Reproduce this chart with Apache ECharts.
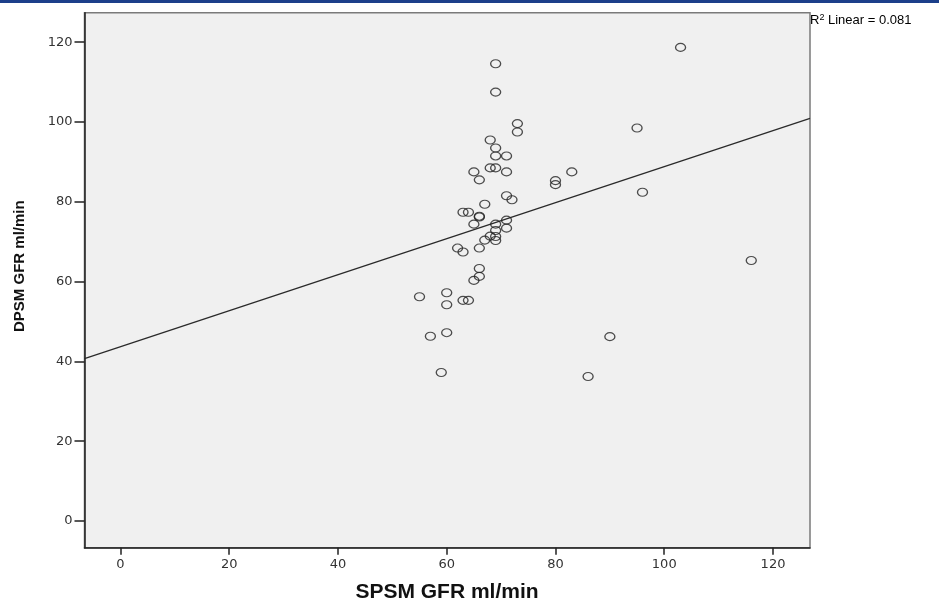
<!DOCTYPE html>
<html>
<head>
<meta charset="utf-8">
<script src="https://cdn.jsdelivr.net/npm/echarts@6/dist/echarts.min.js"></script>
<style>
html,body{margin:0;padding:0;background:#fff;}
#chart{width:939px;height:603px;}
</style>
</head>
<body>
<div id="chart"></div>
<script>
// SPSM GFR (x) values
const spsm = [103, 69, 69, 73, 73, 68, 69, 69, 71, 65, 68, 69, 71, 66, 80, 80, 83, 95, 96,
  71, 72, 67, 63, 64, 66, 66, 65, 69, 71, 71, 69, 68, 69, 69, 67, 66, 62, 63, 66, 66, 65,
  55, 60, 60, 63, 64, 57, 60, 59, 116, 90, 86];
// DPSM GFR (y) values
const dpsm = [118.7, 114.6, 107.5, 99.6, 97.5, 95.5, 93.5, 91.5, 91.5, 87.5, 88.5, 88.5, 87.5, 85.5, 85.3, 84.3, 87.5, 98.5, 82.4,
  81.5, 80.5, 79.4, 77.4, 77.4, 76.4, 76.2, 74.4, 74.4, 75.4, 73.4, 72.8, 71.4, 71.3, 70.3, 70.4, 68.4, 68.4, 67.4, 63.3, 61.3, 60.3,
  56.2, 57.2, 54.2, 55.3, 55.3, 46.3, 47.2, 37.2, 65.3, 46.2, 36.2];
const xTicks = [0, 20, 40, 60, 80, 100, 120];
const yTicks = [0, 20, 40, 60, 80, 100, 120];
const xRange = [-6.6, 126.8];
const yRange = [-6.7, 127.4];
const rSquaredText = '0.081';

const points = spsm.map((x, i) => [x, dpsm[i]]);
// least squares fit
const n = spsm.length;
const mx = spsm.reduce((a, b) => a + b, 0) / n;
const my = dpsm.reduce((a, b) => a + b, 0) / n;
let sxy = 0, sxx = 0;
for (let i = 0; i < n; i++) { sxy += (spsm[i] - mx) * (dpsm[i] - my); sxx += (spsm[i] - mx) ** 2; }
const slope = sxy / sxx;
const intercept = my - slope * mx;
const fitLine = [[xRange[0], intercept + slope * xRange[0]], [xRange[1], intercept + slope * xRange[1]]];

const chart = echarts.init(document.getElementById('chart'), null, {renderer: 'canvas'});
const font = 'DejaVu Sans, Liberation Sans, Arial, sans-serif';
const bold = 'Liberation Sans, Arial, sans-serif';
chart.setOption({
  animation: false,
  backgroundColor: '#ffffff',
  grid: {left: 84.5, top: 12.7, right: 129, bottom: 55.3, show: true,
    backgroundColor: '#f0f0f0', borderColor: '#7a7a7a', borderWidth: 1.5},
  xAxis: {
    type: 'value', min: xRange[0], max: xRange[1],
    axisLine: {show: true, onZero: false, lineStyle: {color: '#222', width: 1.5}},
    axisTick: {show: true, length: 7, customValues: xTicks, lineStyle: {color: '#222', width: 1.5}},
    axisLabel: {customValues: xTicks, color: '#333', fontSize: 13, fontFamily: font, margin: 10},
    splitLine: {show: false}
  },
  yAxis: {
    type: 'value', min: yRange[0], max: yRange[1],
    axisLine: {show: true, onZero: false, lineStyle: {color: '#222', width: 1.5}},
    axisTick: {show: true, length: 10, customValues: yTicks, lineStyle: {color: '#222', width: 1.5}},
    axisLabel: {customValues: yTicks, color: '#333', fontSize: 13, fontFamily: font, margin: 12},
    splitLine: {show: false}
  },
  series: [
    {type: 'line', data: fitLine, symbol: 'none', clip: true,
      lineStyle: {color: '#2a2a2a', width: 1.3}, silent: true, z: 2},
    {type: 'scatter', data: points, symbol: 'circle', symbolSize: [10, 8],
      itemStyle: {color: 'rgba(0,0,0,0)', borderColor: '#222', borderWidth: 1.2}, z: 3}
  ],
  graphic: [
    {type: 'rect', left: 0, top: 0, shape: {width: 939, height: 3}, style: {fill: '#1c3f8a'}},
    {type: 'text', x: 447, y: 582,
      style: {text: 'SPSM GFR ml/min', font: 'bold 21px ' + bold, fill: '#111', textAlign: 'center'}},
    {type: 'text', x: 12, y: 332, rotation: Math.PI / 2,
      style: {text: 'DPSM GFR ml/min', font: 'bold 15px ' + bold, fill: '#111'}},
    {type: 'text', left: 810, top: 13,
      style: {rich: {r: {fontSize: 13, fontFamily: bold, color: '#111'},
                     s: {fontSize: 9, fontFamily: bold, color: '#111', verticalAlign: 'top', padding: [0, 0, 5, 0]}},
              text: '{r|R}{s|2}{r| Linear = ' + rSquaredText + '}'}}
  ]
});
</script>
</body>
</html>
